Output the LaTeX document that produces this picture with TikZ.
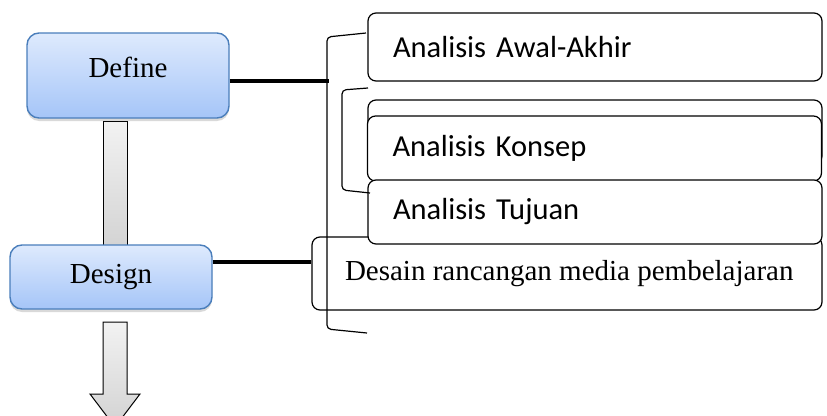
\documentclass[tikz,border=0pt]{standalone}
\usepackage{fontspec}
\setmainfont{Liberation Serif}
\newfontfamily\calibri{Carlito}
\usetikzlibrary{shadows}
\definecolor{stagetop}{HTML}{DEEAFD}
\definecolor{stagebottom}{HTML}{A5C5F8}
\definecolor{stageline}{HTML}{4A7EBB}

\begin{document}
\begin{tikzpicture}[x = 1pt, y = -1pt,
    stage/.style = {draw = stageline, line width = 1.4pt, rounded corners = 12pt,
        top color = stagetop, bottom color = stagebottom,
        drop shadow = {opacity = 0.3, shadow xshift = 0pt, shadow yshift = -3pt},
        font = \fontsize{29}{34}\selectfont},
    item/.style = {draw, line width = 1.2pt, rounded corners = 8pt, fill = white,
        inner xsep = 25pt, text width = 404pt, align = left,
        font = \calibri\fontsize{30.5}{35}\selectfont},
    conn/.style = {line width = 4.5pt},
    brace/.style = {line width = 1.2pt, rounded corners = 4pt},
    blockarrow/.style = {draw, line width = 1pt, top color = gray!10, bottom color = gray!35}]
    \clip (0,0) rectangle (827,415);

    \draw[blockarrow] (103,121) rectangle (127,250);
    \node[stage, minimum width = 202pt, minimum height = 85pt,
        text height = 20pt, text depth = 17pt] (define) at (128,75.5) {Define};
    \node[stage, minimum width = 202pt, minimum height = 64pt] (design) at (111,277) {Design};
    \draw[blockarrow] (103,322) -- (127,322) -- (127,394) -- (140,394) -- (115,427)
        -- (90,394) -- (103,394) -- cycle;

    \node[draw, line width = 1.2pt, rounded corners = 8pt, fill = white,
        inner xsep = 33pt, minimum width = 510pt, minimum height = 73pt,
        font = \fontsize{29}{34}\selectfont]
        (desain) at (567,273.5) {\makebox[444pt][l]{Desain rancangan media pembelajaran}};
    \node[item, minimum height = 64pt] (blank) at (595,132) {};
    \node[item, minimum height = 65pt] (konsep) at (594.5,148.5) {Analisis Konsep};
    \node[item, minimum height = 64pt] (tujuan) at (595,212) {Analisis Tujuan};
    \node[item, minimum height = 68pt] (awal) at (595,47) {Analisis Awal-Akhir};

    \draw[brace] (366,33) -- (327,37) -- (327,329) -- (367,333);
    \draw[brace] (368,88) -- (342,90) -- (342,190) -- (370,193);
    \coordinate (brk) at (329,81);
    \draw[conn] ([yshift = -5.5pt]define.east) -- (brk);
    \draw[conn] ([yshift = 15pt]design.east) -- ([yshift = 15pt]design.east -| desain.west);
\end{tikzpicture}
\end{document}
